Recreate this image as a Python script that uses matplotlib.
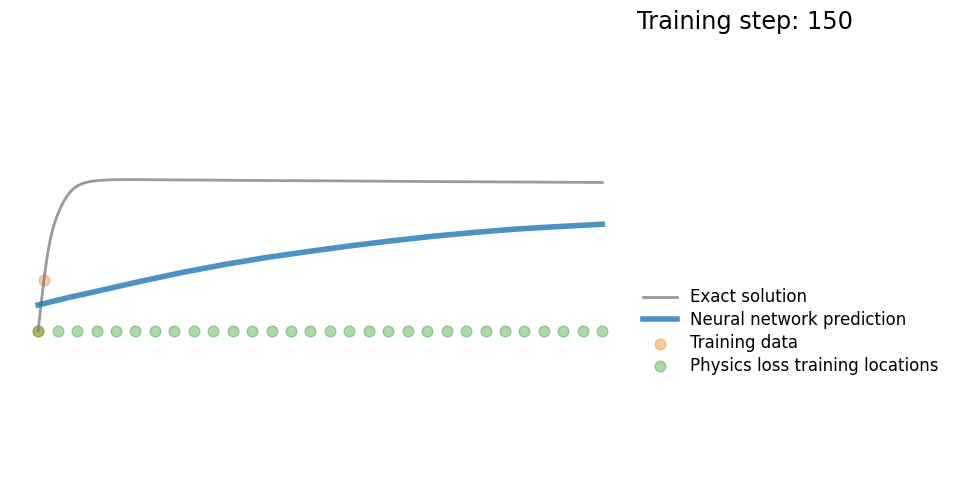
import matplotlib
matplotlib.use("Agg")
import matplotlib.pyplot as plt

# Exact solution
x_exact = [0, 0.003, 0.006, 0.009, 0.012, 0.015, 0.018, 0.021, 0.024, 0.028,
           0.033, 0.038, 0.045, 0.050, 0.055, 0.060, 0.065, 0.070, 0.075, 0.080,
           0.085, 0.092, 0.104, 0.115, 0.130, 0.163, 0.25, 0.4, 0.55, 0.7, 0.85, 1.0]
y_exact = [0, 0.105, 0.205, 0.30, 0.39, 0.47, 0.54, 0.60, 0.65, 0.705,
           0.76, 0.805, 0.86, 0.89, 0.915, 0.937, 0.953, 0.965, 0.974, 0.982,
           0.987, 0.993, 0.999, 1.002, 1.005, 1.006, 1.004, 1.0, 0.997, 0.993, 0.99, 0.987]

# Neural network prediction
x_pred = [0, 0.055, 0.11, 0.185, 0.258, 0.33, 0.405, 0.48, 0.553, 0.63,
          0.70, 0.775, 0.848, 0.925, 1.0]
y_pred = [0.172, 0.222, 0.268, 0.332, 0.390, 0.441, 0.488, 0.528, 0.565, 0.600,
          0.629, 0.655, 0.677, 0.694, 0.709]

# Training data
x_data = [0.0, 0.0103]
y_data = [0.0, 0.338]

# Physics loss training locations
x_phys = [0.000, 0.0345, 0.069, 0.1034, 0.1379, 0.1724, 0.2069, 0.2414, 0.2759, 0.3103,
          0.3448, 0.3793, 0.4138, 0.4483, 0.4828, 0.5172, 0.5517, 0.5862, 0.6207, 0.6552,
          0.6897, 0.7241, 0.7586, 0.7931, 0.8276, 0.8621, 0.8966, 0.931, 0.9655, 1.000]
y_phys = [0.0] * len(x_phys)

step = 150

fig = plt.figure(figsize=(9.55, 4.91), dpi=100)
ax = fig.add_axes([10 / 955, 10 / 491, 620.4 / 955, 308 / 491])
ax.plot(x_exact, y_exact, color="grey", linewidth=2, alpha=0.8, label="Exact solution")
ax.plot(x_pred, y_pred, color="tab:blue", linewidth=4, alpha=0.8, label="Neural network prediction")
ax.scatter(x_data, y_data, s=60, color="tab:orange", alpha=0.4, label="Training data")
ax.scatter(x_phys, y_phys, s=60, color="tab:green", alpha=0.4, label="Physics loss training locations")
leg = ax.legend(loc=(1.01, 0.323), frameon=False, fontsize="large", labelspacing=0.29)
ax.set_xlim(-0.05, 1.05)
ax.set_ylim(-1.0, 1.05)
ax.text(1.0615, 2.01, "Training step: %i" % step, fontsize="xx-large", color="k")
ax.axis("off")
fig.savefig("out.png", dpi=100)
